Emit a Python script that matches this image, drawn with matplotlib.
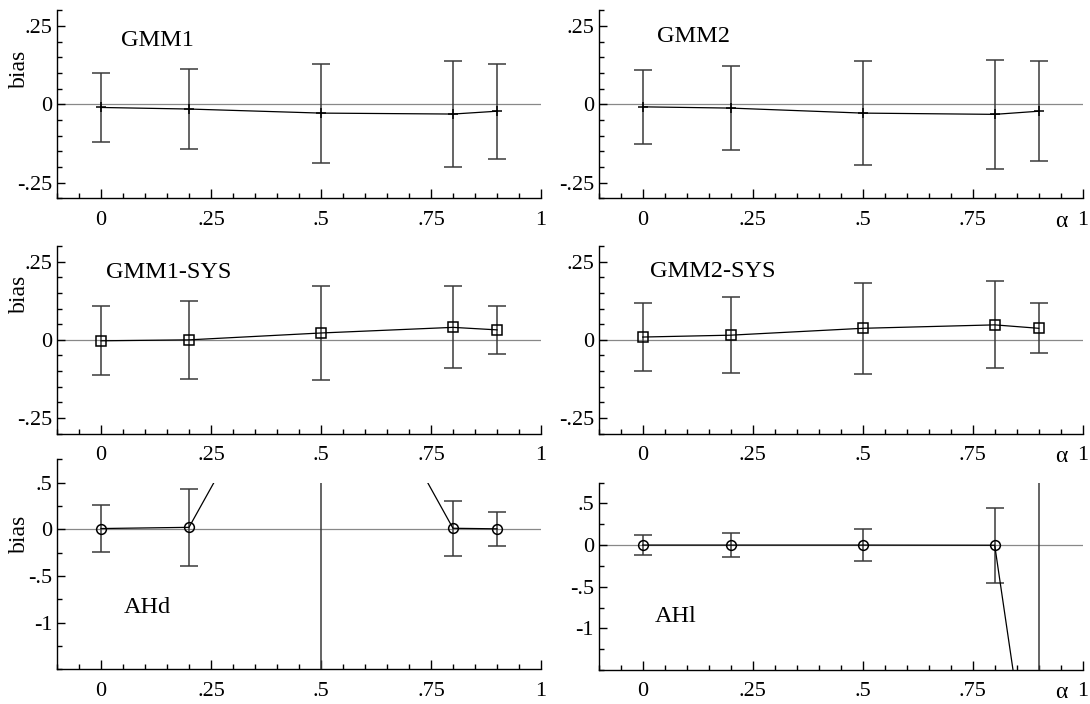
import matplotlib
matplotlib.use("Agg")
import matplotlib.pyplot as plt
from matplotlib.ticker import FixedLocator, MultipleLocator, FuncFormatter
from matplotlib.patches import Rectangle

plt.rcParams['font.family'] = ['Liberation Serif', 'DejaVu Serif']

# ------------------------------- DATA ---------------------------------------#
alpha = [0.0, 0.2, 0.5, 0.8, 0.9]

gmm1_bias = [-0.010, -0.015, -0.028, -0.031, -0.022]
gmm1_err = [0.111, 0.127, 0.158, 0.169, 0.152]
gmm2_bias = [-0.008, -0.012, -0.028, -0.032, -0.022]
gmm2_err = [0.118, 0.134, 0.166, 0.175, 0.160]

gmm1sys_bias = [-0.003, 0.000, 0.022, 0.040, 0.032]
gmm1sys_err = [0.111, 0.126, 0.150, 0.131, 0.076]
gmm2sys_bias = [0.009, 0.015, 0.037, 0.048, 0.037]
gmm2sys_err = [0.109, 0.122, 0.146, 0.139, 0.080]

ahd_bias = [0.008, 0.021, 2.56, 0.011, 0.005]
ahd_err = [0.247, 0.410, 5.0, 0.296, 0.180]
ahl_bias = [0.0, 0.0, 0.0, -0.002, -3.6]
ahl_err = [0.122, 0.144, 0.192, 0.450, 6.0]

x_ticks = [0, 0.25, 0.5, 0.75, 1]
y_ticks_gmm = [-0.25, 0, 0.25]
y_ticks_ah = [-1, -0.5, 0, 0.5]

FS = 16      # tick labels, axis labels
FS_T = 17.5  # panel titles


def short_fmt(v, pos=None):
    s = '%g' % v
    if s.startswith('0.'):
        s = s[1:]
    elif s.startswith('-0.'):
        s = '-' + s[2:]
    return s


def style_axes(ax, ylim, yticks, yminor, right_col):
    ax.patch.set_visible(False)
    ax.set_xlim(-0.1, 1.0)
    ax.set_ylim(*ylim)
    for s in ['top', 'right']:
        ax.spines[s].set_visible(False)
    for s in ['left', 'bottom']:
        ax.spines[s].set_linewidth(1.0)
    ax.xaxis.set_major_locator(FixedLocator(x_ticks))
    ax.xaxis.set_minor_locator(MultipleLocator(0.05))
    ax.yaxis.set_major_locator(FixedLocator(yticks))
    ax.yaxis.set_minor_locator(MultipleLocator(yminor))
    ax.xaxis.set_major_formatter(FuncFormatter(short_fmt))
    ax.yaxis.set_major_formatter(FuncFormatter(short_fmt))
    ax.tick_params(axis='x', which='major', direction='in', length=6.5, width=1.0,
                   pad=9.0, labelsize=FS)
    ax.tick_params(axis='x', which='minor', direction='in', length=3.6, width=1.0)
    ax.tick_params(axis='y', which='major', direction='in', length=6.0, width=1.0,
                   pad=3.5, labelsize=FS)
    ax.tick_params(axis='y', which='minor', direction='in', length=3.6, width=1.0)
    ax.axhline(0, color='#888888', lw=0.9, zorder=1)
    if right_col:
        ax.annotate('α', xy=(0.952, 0), xycoords=('data', 'axes fraction'),
                    xytext=(0, -9.0), textcoords='offset points',
                    ha='center', va='top', fontsize=FS + 1)


def draw(ax, y, e, marker, ms, clip_top=None):
    cont = ax.errorbar(alpha, y, yerr=e, fmt='-', marker=marker, color='black',
                       lw=0.9, ms=ms, mfc='none', mew=1.1, ecolor='#3a3a3a',
                       elinewidth=1.1, capsize=6.5, capthick=1.0, zorder=3)
    if clip_top is not None:
        y0 = ax.get_ylim()[0]
        rect = Rectangle((-0.1, y0), 1.1, clip_top - y0, transform=ax.transData)
        artists = [cont[0]] + list(cont[1]) + list(cont[2])
        for a in artists:
            a.set_clip_path(rect)
    return cont


fig = plt.figure(figsize=(10.9, 7.04), dpi=100, facecolor='white')

W = 0.4440
ax_tl = fig.add_axes([0.0523, 0.7183, W, 0.2670])
ax_tr = fig.add_axes([0.5493, 0.7183, W, 0.2670])
ax_ml = fig.add_axes([0.0523, 0.3842, W, 0.2661])
ax_mr = fig.add_axes([0.5493, 0.3842, W, 0.2661])
ax_bl = fig.add_axes([0.0523, 0.0493, W, 0.2983])
ax_br = fig.add_axes([0.5493, 0.0483, W, 0.2662])

style_axes(ax_tl, (-0.3, 0.3), y_ticks_gmm, 0.05, False)
style_axes(ax_tr, (-0.3, 0.3), y_ticks_gmm, 0.05, True)
style_axes(ax_ml, (-0.3, 0.3), y_ticks_gmm, 0.05, False)
style_axes(ax_mr, (-0.3, 0.3), y_ticks_gmm, 0.05, True)
style_axes(ax_bl, (-1.5, 0.75), y_ticks_ah, 0.25, False)
style_axes(ax_br, (-1.5, 0.75), y_ticks_ah, 0.25, True)

draw(ax_tl, gmm1_bias, gmm1_err, '+', 6.5)
draw(ax_tr, gmm2_bias, gmm2_err, '+', 6.5)
draw(ax_ml, gmm1sys_bias, gmm1sys_err, 's', 6.5)
draw(ax_mr, gmm2sys_bias, gmm2sys_err, 's', 6.5)
draw(ax_bl, ahd_bias, ahd_err, 'o', 7, clip_top=0.5)
draw(ax_br, ahl_bias, ahl_err, 'o', 7)

# panel titles
ax_tl.text(0.132, 0.811, 'GMM1', transform=ax_tl.transAxes, fontsize=FS_T, va='baseline')
ax_tr.text(0.121, 0.833, 'GMM2', transform=ax_tr.transAxes, fontsize=FS_T, va='baseline')
ax_ml.text(0.102, 0.829, 'GMM1-SYS', transform=ax_ml.transAxes, fontsize=FS_T, va='baseline')
ax_mr.text(0.105, 0.837, 'GMM2-SYS', transform=ax_mr.transAxes, fontsize=FS_T, va='baseline')
ax_bl.text(0.138, 0.267, 'AHd', transform=ax_bl.transAxes, fontsize=FS_T, va='baseline')
ax_br.text(0.116, 0.258, 'AHl', transform=ax_br.transAxes, fontsize=FS_T, va='baseline')

# y labels on left column
for ax, yy in [(ax_tl, 0.687), (ax_ml, 0.744), (ax_bl, 0.643)]:
    ax.set_ylabel('bias', fontsize=FS + 1, va='center')
    ax.yaxis.set_label_coords(-0.078, yy)

fig.savefig('out.png', dpi=100, facecolor='white')
